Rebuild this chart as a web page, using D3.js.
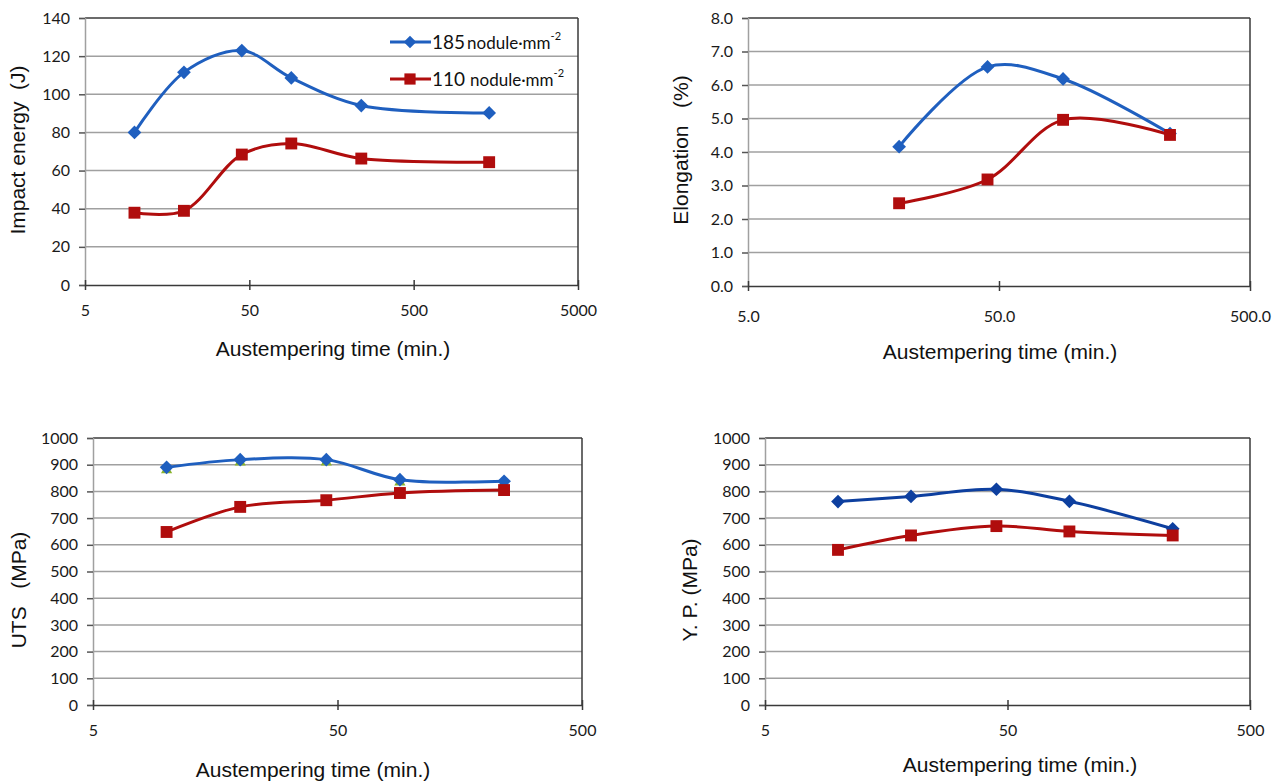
<!DOCTYPE html>
<html>
<head>
<meta charset="utf-8">
<script src="https://cdn.jsdelivr.net/npm/d3@7"></script>
<style>
  body { margin: 0; background: #fff; }
  svg { display: block; }
  .tick-label { font-family: Lato, "Liberation Sans", Arial, sans-serif; font-size: 16px; fill: #1a1a1a; }
  .x-title { font-family: "Liberation Sans", Arial, sans-serif; font-size: 21px; fill: #111; }
  .y-title { font-family: "Liberation Sans", Arial, sans-serif; font-size: 21px; fill: #111; }
  .legend { font-family: Lato, "Liberation Sans", Arial, sans-serif; font-size: 17px; fill: #111; }
</style>
</head>
<body>
<div id="chart"></div>
<script>
// Austempering times (min.)
const impactTimes = [10, 20, 45, 90, 240, 1440];
const impact185 = [80, 111.5, 122.9, 108.6, 94.1, 90.2];
const impact110 = [37.9, 38.9, 68.4, 74.2, 66.3, 64.4];

const elongTimes = [20, 45, 90, 240];
const elong185 = [4.16, 6.54, 6.18, 4.55];
const elong110 = [2.47, 3.18, 4.96, 4.51];

const tensileTimes = [10, 20, 45, 90, 240];
const uts185 = [890, 919, 919, 844, 838];
const utsHidden = [880, 909, 909, 834, 830];
const uts110 = [648, 742, 767, 794, 805];

const yp185 = [762, 781, 808, 763, 660];
const yp110 = [581, 635, 670, 650, 635];

// axis ticks
const impactTicks = [0, 20, 40, 60, 80, 100, 120, 140];
const elongTicks = [0, 1, 2, 3, 4, 5, 6, 7, 8];
const mpaTicks = [0, 100, 200, 300, 400, 500, 600, 700, 800, 900, 1000];
const timeTicks4 = [5, 50, 500, 5000];
const timeTicks3 = [5, 50, 500];

const seriesLabels = ["185", "110"];

const colors = {
  blue: "#1f5fbf",
  blueDark: "#0d3f9f",
  red: "#b00d0d",
  green: "#8ab42a",
  grid: "#a0a0a0",
  axis: "#3a3a3a"
};

const svg = d3.select("#chart").append("svg")
  .attr("width", 1277)
  .attr("height", 781);

const diamond = d3.symbol().type(d3.symbolDiamond2);
const square = d3.symbol().type(d3.symbolSquare2);
const triangle = d3.symbol().type(d3.symbolTriangle2);

function drawPanel(p) {
  const x = d3.scaleLog().domain(p.xDomain).range([p.left, p.right]);
  const y = d3.scaleLinear().domain(p.yDomain).range([p.bottom, p.top]);
  const g = svg.append("g");
  const yMax = p.yDomain[1];

  // gridlines (the top one doubles as the dark frame edge)
  g.selectAll("line.grid")
    .data(p.yTicks.filter(d => d > p.yDomain[0]))
    .enter()
    .append("line")
    .attr("class", "grid")
    .attr("x1", p.left)
    .attr("x2", p.right)
    .attr("y1", d => y(d))
    .attr("y2", d => y(d))
    .attr("stroke", d => d === yMax ? colors.axis : colors.grid)
    .attr("stroke-width", 1.5);

  // right border
  g.append("line")
    .attr("x1", p.right).attr("x2", p.right)
    .attr("y1", p.top).attr("y2", p.bottom)
    .attr("stroke", colors.axis)
    .attr("stroke-width", 1.5);

  // y axis
  const yAxis = d3.axisLeft(y)
    .tickValues(p.yTicks)
    .tickSize(6)
    .tickPadding(9)
    .tickFormat(p.yFormat);
  const ya = g.append("g")
    .attr("transform", `translate(${p.left},0)`)
    .call(yAxis);
  ya.select(".domain").attr("stroke", colors.grid).attr("stroke-width", 1.5);
  ya.selectAll(".tick line").attr("stroke", "#555").attr("stroke-width", 1.5);
  ya.selectAll(".tick text").attr("class", "tick-label").attr("font-size", null).attr("font-family", null);

  // x axis (ticks cross the axis line)
  const xAxis = d3.axisBottom(x)
    .tickValues(p.xTicks)
    .tickSize(0)
    .tickPadding(p.xPad)
    .tickFormat(p.xFormat);
  const xa = g.append("g")
    .attr("transform", `translate(0,${p.bottom})`)
    .call(xAxis);
  xa.select(".domain").attr("stroke", colors.axis).attr("stroke-width", 1.5);
  xa.selectAll(".tick").append("line")
    .attr("y1", -5).attr("y2", 5)
    .attr("stroke", colors.axis)
    .attr("stroke-width", 1.5);
  xa.selectAll(".tick text").attr("class", "tick-label").attr("font-size", null).attr("font-family", null);

  // axis titles
  g.append("text")
    .attr("class", "x-title")
    .attr("x", p.xTitle[0])
    .attr("y", p.xTitle[1])
    .attr("text-anchor", "middle")
    .text("Austempering time (min.)");

  g.append("text")
    .attr("class", "y-title")
    .attr("transform", `translate(${p.yTitle[0]},${p.yTitle[1]}) rotate(-90)`)
    .attr("text-anchor", "middle")
    .style("white-space", "pre")
    .text(p.yLabel);

  const line = d3.line()
    .x(d => x(d[0]))
    .y(d => y(d[1]))
    .curve(d3.curveCatmullRom.alpha(0.5));

  p.series.forEach(s => {
    const pts = p.times.map((t, i) => [t, s.values[i]]).filter(d => d[1] != null);
    if (s.line) {
      g.append("path")
        .datum(pts)
        .attr("fill", "none")
        .attr("stroke", s.color)
        .attr("stroke-width", 3)
        .attr("d", line);
    }
    g.selectAll(null)
      .data(pts)
      .enter()
      .append("path")
      .attr("transform", d => `translate(${x(d[0])},${y(d[1])})`)
      .attr("d", s.symbol.size(s.size)())
      .attr("fill", s.color);
  });
}

const mk185 = (values, color) => ({ values, color, symbol: diamond, size: 120, line: true });
const mk110 = (values) => ({ values, color: colors.red, symbol: square, size: 180, line: true });

// Impact energy
drawPanel({
  left: 85, right: 578, top: 18, bottom: 285,
  xDomain: [5, 5000], yDomain: [0, 140],
  xTicks: timeTicks4, yTicks: impactTicks,
  xFormat: d3.format("d"), yFormat: d3.format("d"), xPad: 20,
  xTitle: [333, 356], yTitle: [25, 150], yLabel: "Impact energy  (J)",
  times: impactTimes,
  series: [mk185(impact185, colors.blue), mk110(impact110)]
});

// Elongation
drawPanel({
  left: 748, right: 1250, top: 18, bottom: 286,
  xDomain: [5, 500], yDomain: [0, 8],
  xTicks: timeTicks3, yTicks: elongTicks,
  xFormat: d3.format(".1f"), yFormat: d3.format(".1f"), xPad: 25,
  xTitle: [1000, 359], yTitle: [688, 150], yLabel: "Elongation   (%)",
  times: elongTimes,
  series: [mk185(elong185, colors.blue), mk110(elong110)]
});

// UTS
drawPanel({
  left: 93, right: 582, top: 438, bottom: 705,
  xDomain: [5, 500], yDomain: [0, 1000],
  xTicks: timeTicks3, yTicks: mpaTicks,
  xFormat: d3.format("d"), yFormat: d3.format("d"), xPad: 20,
  xTitle: [313, 777], yTitle: [26, 590], yLabel: "UTS   (MPa)",
  times: tensileTimes,
  series: [
    { values: utsHidden, color: colors.green, symbol: triangle, size: 90, line: false },
    mk185(uts185, colors.blue),
    mk110(uts110)
  ]
});

// Yield point
drawPanel({
  left: 765, right: 1250, top: 438, bottom: 705,
  xDomain: [5, 500], yDomain: [0, 1000],
  xTicks: timeTicks3, yTicks: mpaTicks,
  xFormat: d3.format("d"), yFormat: d3.format("d"), xPad: 20,
  xTitle: [1020, 772], yTitle: [697, 590], yLabel: "Y. P. (MPa)",
  times: tensileTimes,
  series: [mk185(yp185, colors.blueDark), mk110(yp110)]
});

// legend for the first panel
const legend = svg.append("g").attr("transform", "translate(390,42)");
const legendItems = [
  { label: seriesLabels[0], color: colors.blue, symbol: diamond, size: 100 },
  { label: seriesLabels[1], color: colors.red, symbol: square, size: 160 }
];
legendItems.forEach((it, i) => {
  const row = legend.append("g").attr("transform", `translate(0,${i * 37})`);
  row.append("line")
    .attr("x1", 0).attr("x2", 41)
    .attr("stroke", it.color)
    .attr("stroke-width", 3);
  row.append("path")
    .attr("transform", "translate(20,0)")
    .attr("d", it.symbol.size(it.size)())
    .attr("fill", it.color);
  const t = row.append("text")
    .attr("class", "legend")
    .attr("x", 42)
    .attr("y", 7);
  t.append("tspan").attr("font-size", 19).text(it.label);
  t.append("tspan").attr("dx", i === 0 ? 2 : 5).text("nodule\u00b7mm");
  t.append("tspan").attr("font-size", 11).attr("dy", -9).text("-2");
});
</script>
</body>
</html>
